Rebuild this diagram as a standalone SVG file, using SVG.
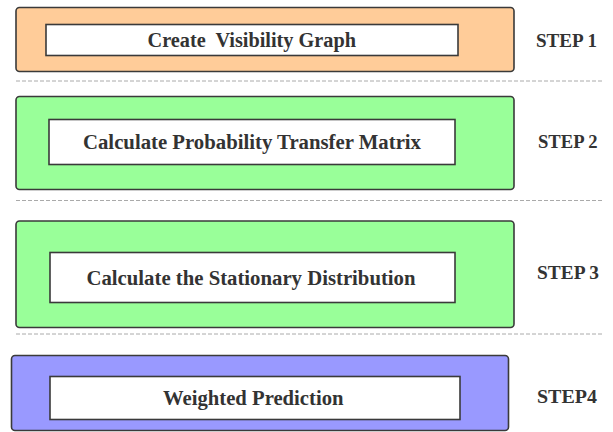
<svg xmlns="http://www.w3.org/2000/svg" width="613" height="432" viewBox="0 0 613 432">
<style>
.outer{stroke:#3a3a3a;stroke-width:1.6}
.inner{fill:#ffffff;stroke:#3a3a3a;stroke-width:1.6}
.lbl{font-family:"Liberation Serif","Times New Roman",serif;font-weight:bold;font-size:20px;fill:#333333;white-space:pre}
.step{font-family:"Liberation Serif","Times New Roman",serif;font-weight:bold;font-size:18.5px;fill:#333333;white-space:pre}
.sep{stroke:#aaaaaa;stroke-width:1;stroke-dasharray:4 2;fill:none}
</style>
<rect width="613" height="432" fill="#ffffff"/>
<g id="separators">
<line class="sep" x1="16" y1="81" x2="603" y2="81"/>
<line class="sep" x1="16" y1="200.5" x2="603" y2="200.5"/>
<line class="sep" x1="16" y1="334" x2="603" y2="334"/>
</g>
<g id="step1">
<rect class="outer" x="16" y="7.5" width="498" height="64" rx="3.5" fill="#ffcc99"/>
<rect class="inner" x="46" y="24.5" width="412" height="31"/>
<text class="lbl" x="147.5" y="46.5" textLength="208.5" lengthAdjust="spacingAndGlyphs">Create  Visibility Graph</text>
<text class="step" x="536" y="46.5" textLength="61" lengthAdjust="spacingAndGlyphs">STEP 1</text>
</g>
<g id="step2">
<rect class="outer" x="16" y="96.5" width="498" height="93" rx="3.5" fill="#99ff99"/>
<rect class="inner" x="49" y="119.5" width="406" height="45"/>
<text class="lbl" x="83" y="149" textLength="338" lengthAdjust="spacingAndGlyphs">Calculate Probability Transfer Matrix</text>
<text class="step" x="538" y="148.3" textLength="59.5" lengthAdjust="spacingAndGlyphs">STEP 2</text>
</g>
<g id="step3">
<rect class="outer" x="16" y="221" width="498" height="106.5" rx="3.5" fill="#99ff99"/>
<rect class="inner" x="50" y="252.5" width="405" height="50"/>
<text class="lbl" x="86.5" y="285" textLength="329" lengthAdjust="spacingAndGlyphs">Calculate the Stationary Distribution</text>
<text class="step" x="537" y="279" textLength="62" lengthAdjust="spacingAndGlyphs">STEP 3</text>
</g>
<g id="step4">
<rect class="outer" x="11.5" y="355.5" width="497" height="75" rx="3.5" fill="#9999ff"/>
<rect class="inner" x="50" y="376.5" width="410" height="43"/>
<text class="lbl" x="163" y="405" textLength="180.5" lengthAdjust="spacingAndGlyphs">Weighted Prediction</text>
<text class="step" x="537" y="403" textLength="60" lengthAdjust="spacingAndGlyphs">STEP4</text>
</g>
</svg>
